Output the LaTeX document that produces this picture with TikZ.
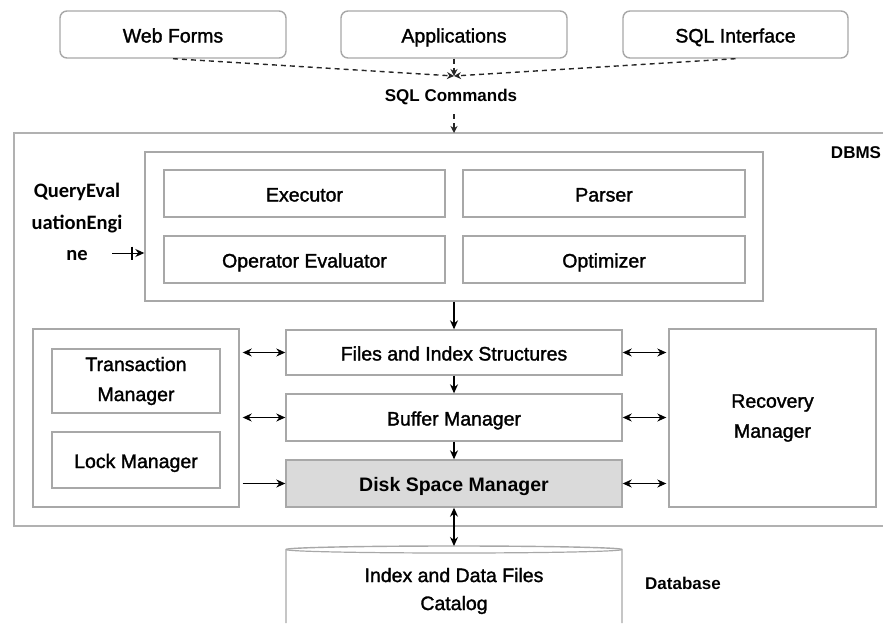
\documentclass[tikz,border=0pt]{standalone}
\usepackage{fontspec}
\setmainfont{Liberation Sans}
\newfontfamily\medfont{Liberation Sans}[FakeBold=1.5]
\newfontfamily\qefont{Carlito}
\usetikzlibrary{arrows.meta}
\definecolor{boxgray}{HTML}{A8A8A8}
\definecolor{diskfill}{HTML}{DADADA}
\tikzset{
  box/.style={draw=boxgray, line width=1.4pt, fill=white, inner sep=2pt, align=center, font=\medfont\fontsize{19.5}{24}\selectfont},
  oneline/.style={text height=16pt, text depth=0pt},
  topbox/.style={box, oneline, rounded corners=7pt, minimum height=47pt},
  arr/.style={line width=1.2pt, -{Stealth[length=9pt,width=8pt]}},
  darr/.style={line width=1.2pt, {Stealth[length=9pt,width=8pt]}-{Stealth[length=9pt,width=8pt]}},
  dasharr/.style={line width=1.4pt, dash pattern=on 5pt off 4pt, draw=black!85, -{Stealth[length=7pt,width=7pt]}},
  lbl/.style={font=\bfseries\fontsize{17}{20}\selectfont, inner sep=0pt},
}
\begin{document}
\begin{tikzpicture}[x=1pt,y=-1pt]
\useasboundingbox (0,0) rectangle (883,624);
% top boxes
\node[topbox, minimum width=226pt] (wf) at (173,34.5) {Web Forms};
\node[topbox, minimum width=226pt] (app) at (454,34.5) {Applications};
\node[topbox, minimum width=225pt] (si) at (735.5,34.5) {SQL Interface};
\coordinate (conv) at (454,76);
\node[lbl] (sqlc) at (451,97) {SQL Commands};
\draw[dasharr] (wf.south) -- (conv);
\draw[dasharr] (si.south) -- (conv);
\draw[dasharr] (app.south) -- (conv);
% DBMS frame
\draw[draw=boxgray!90, line width=2pt] (883,133) -- (14,133) -- (14,526) -- (883,526);
\coordinate (dbmstop) at (454,133);
\coordinate (sqlout) at (454,114);
\draw[dasharr] (sqlout) -- (dbmstop);
\node[lbl] (dbms) at (856,153) {DBMS};
% query evaluation engine
\node[box, minimum width=618pt, minimum height=149pt] (qe) at (454,226.5) {};
\node[box, oneline, minimum width=281pt, minimum height=47pt] (ex) at (304.5,193.5) {Executor};
\node[box, oneline, minimum width=282pt, minimum height=47pt] (pa) at (604,193.5) {Parser};
\node[box, oneline, minimum width=281pt, minimum height=47pt] (oe) at (304.5,259.5) {Operator Evaluator};
\node[box, oneline, minimum width=282pt, minimum height=47pt] (op) at (604,259.5) {Optimizer};
\node[font=\qefont\bfseries\fontsize{20.5}{31.5}\selectfont, align=center, inner sep=0pt] (qel) at (77,222) {QueryEval\\uationEngi\\ne};
\coordinate (qa) at (112,253);
\draw[arr, line width=1pt] (qa) -- (qe.west |- qa);
\draw[line width=1.2pt] (132,246.5) -- (132,259.5);
% storage stack
\node[box, oneline, minimum width=336pt, minimum height=45pt] (fi) at (454,352.5) {Files and Index Structures};
\node[box, oneline, minimum width=336pt, minimum height=47pt] (bu) at (454,417.5) {Buffer Manager};
\node[box, oneline, minimum width=336pt, minimum height=47pt, fill=diskfill, font=\rmfamily\bfseries\fontsize{19.5}{24}\selectfont] (di) at (454,483.5) {Disk Space Manager};
\draw[arr] (qe.south) -- (fi.north);
\draw[arr] (fi.south) -- (bu.north);
\draw[arr] (bu.south) -- (di.north);
% left group
\node[box, minimum width=206pt, minimum height=178pt] (lg) at (136,418) {};
\node[box, minimum width=168pt, minimum height=64pt, font=\medfont\fontsize{19.5}{30}\selectfont] (tm) at (136,381) {Transaction\\Manager};
\node[box, oneline, minimum width=168pt, minimum height=56pt] (lm) at (136,460) {Lock Manager};
% recovery
\node[box, minimum width=207pt, minimum height=178pt, font=\medfont\fontsize{19.5}{30}\selectfont] (rm) at (772.5,418) {Recovery\\Manager};
% side arrows
\draw[darr] ([xshift=3pt]lg.east |- fi.west) -- (fi.west);
\draw[darr] ([xshift=3pt]lg.east |- bu.west) -- (bu.west);
\draw[arr] ([xshift=3pt]lg.east |- di.west) -- (di.west);
\draw[darr] (fi.east) -- ([xshift=-2pt]rm.west |- fi.east);
\draw[darr] (bu.east) -- ([xshift=-2pt]rm.west |- bu.east);
\draw[darr] (di.east) -- ([xshift=-2pt]rm.west |- di.east);
% database cylinder
\draw[draw=boxgray, line width=1.4pt, fill=white] (286,623) -- (286,549.5) arc[start angle=180, end angle=360, x radius=168, y radius=3.5] -- (622,623);
\draw[draw=boxgray, line width=1.2pt] (286,549.5) arc[start angle=180, end angle=0, x radius=168, y radius=3.5];
\coordinate (cyltop) at (454,546);
\draw[darr] (di.south) -- (cyltop);
\node[align=center, font=\medfont\fontsize{19.5}{28}\selectfont] (db) at (454,591) {Index and Data Files\\Catalog};
\node[lbl] (dbl) at (683,583) {Database};
\end{tikzpicture}
\end{document}
